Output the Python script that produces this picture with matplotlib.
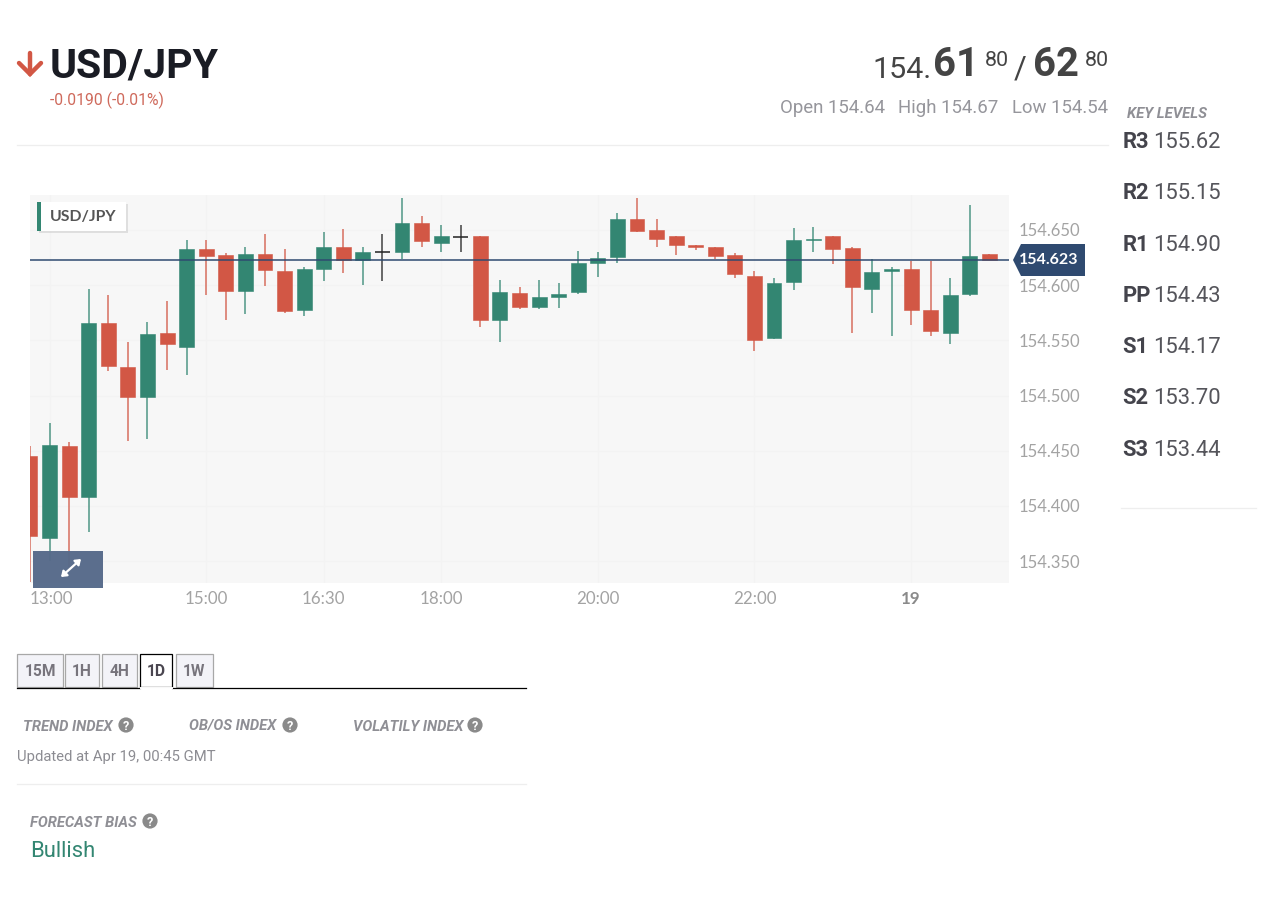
import matplotlib
matplotlib.use('Agg')
import matplotlib.pyplot as plt
from matplotlib.patches import Rectangle, Polygon, Circle
from matplotlib.transforms import ScaledTranslation

# ----------------------------------------------------------------
# Candles, 15 minutes each
# ----------------------------------------------------------------
opens = [154.4455, 154.3707, 154.4543, 154.4084, 154.5655, 154.5261, 154.4984, 154.5564, 154.5443, 154.6331,
         154.6271, 154.5945, 154.6283, 154.6131, 154.5775, 154.6144, 154.6343, 154.6228, 154.6298, 154.6303,
         154.6563, 154.6385, 154.6437, 154.6443, 154.5685, 154.5932, 154.5805, 154.5893, 154.5936, 154.6204,
         154.6255, 154.6600, 154.6500, 154.6443, 154.6361, 154.6343, 154.6271, 154.6083, 154.5524, 154.6026,
         154.6412, 154.6443, 154.6340, 154.5963, 154.6126, 154.6144, 154.5772, 154.5564, 154.5923, 154.6283]
highs = [154.4543, 154.4749, 154.4582, 154.5963, 154.5911, 154.5483, 154.5664, 154.5859, 154.6409, 154.6409,
         154.6289, 154.6349, 154.6461, 154.6325, 154.6167, 154.6485, 154.6509, 154.6349, 154.6461, 154.6787,
         154.6630, 154.6545, 154.6545, 154.6446, 154.6044, 154.5984, 154.6044, 154.6017, 154.6310, 154.6298,
         154.6651, 154.6787, 154.6602, 154.6446, 154.6364, 154.6343, 154.6289, 154.6129, 154.6068, 154.6521,
         154.6530, 154.6446, 154.6343, 154.6237, 154.6167, 154.6219, 154.6222, 154.6068, 154.6727, 154.6283]
lows = [154.3314, 154.3501, 154.3447, 154.3767, 154.5223, 154.4588, 154.4609, 154.5232, 154.5186, 154.5908,
        154.5685, 154.5736, 154.5993, 154.5745, 154.5721, 154.6041, 154.6113, 154.6002, 154.6041, 154.6235,
        154.6349, 154.6298, 154.6298, 154.5624, 154.5483, 154.5782, 154.5782, 154.5796, 154.5917, 154.6077,
        154.6198, 154.6479, 154.6349, 154.6273, 154.6319, 154.6235, 154.6065, 154.5404, 154.5512, 154.5956,
        154.6298, 154.6189, 154.5564, 154.5745, 154.5540, 154.5637, 154.5540, 154.5467, 154.5905, 154.6228]
closes = [154.3728, 154.4552, 154.4084, 154.5655, 154.5268, 154.4984, 154.5555, 154.5464, 154.6331, 154.6264,
          154.5947, 154.6283, 154.6135, 154.5763, 154.6144, 154.6343, 154.6228, 154.6303, 154.6298, 154.6563,
          154.6403, 154.6446, 154.6437, 154.5685, 154.5941, 154.5805, 154.5890, 154.5920, 154.6201, 154.6249,
          154.6600, 154.6494, 154.6416, 154.6367, 154.6346, 154.6264, 154.6104, 154.5503, 154.6023, 154.6412,
          154.6421, 154.6331, 154.5984, 154.6122, 154.6144, 154.5775, 154.5582, 154.5911, 154.6262, 154.6228]

last_price = 154.623
y_ticks = [154.35, 154.40, 154.45, 154.50, 154.55, 154.60, 154.65]
x_ticks = [1, 9, 15, 21, 29, 37, 45]
x_labels = ['13:00', '15:00', '16:30', '18:00', '20:00', '22:00', '19']

level_names = ['R3', 'R2', 'R1', 'PP', 'S1', 'S2', 'S3']
level_values = ['155.62', '155.15', '154.90', '154.43', '154.17', '153.70', '153.44']
tab_names = ['15M', '1H', '4H', '1D', '1W']

GREEN = '#338672'
RED = '#d25745'
NAVY = '#2f4a70'
W, H = 1267, 901

fig = plt.figure(figsize=(W / 100, H / 100), dpi=100, facecolor='white')

# ----------------------------------------------------------------
# Candle chart
# ----------------------------------------------------------------
ax = fig.add_axes([30 / W, 1 - 583 / H, 979 / W, 388 / H], facecolor='#f7f7f7')
ax.set_xlim(0, 50)
ax.set_ylim(154.3302, 154.6817)
for side in ax.spines.values():
    side.set_visible(False)

for i in range(len(opens)):
    if closes[i] > opens[i]:
        col = GREEN
    elif closes[i] < opens[i]:
        col = RED
    else:
        col = '#222222'
    ax.vlines(i, lows[i], highs[i], color=col, lw=1.1, alpha=0.85, zorder=3)
    if col == '#222222':
        ax.hlines(opens[i], i - 0.38, i + 0.38, color=col, lw=1.1, zorder=3)
    else:
        ax.bar(i, abs(closes[i] - opens[i]), bottom=min(opens[i], closes[i]), width=0.76,
               color=col, edgecolor=col, lw=0.4, zorder=3)

ax.axhline(last_price, color=NAVY, lw=1.1, zorder=4)

ax.set_yticks(y_ticks)
ax.set_yticklabels(['%.3f' % v for v in y_ticks], family='Lato', fontsize=12.0, color='#a3a3a3')
ax.yaxis.tick_right()
ax.tick_params(axis='y', length=0, pad=7)
ax.set_xticks(x_ticks)
ax.set_xticklabels(x_labels, family='Lato', fontsize=12.2, color='#a3a3a3')
ax.tick_params(axis='x', length=0, pad=6)
ax.get_xticklabels()[-1].set_fontweight('bold')
ax.get_xticklabels()[-1].set_color('#8a8a8a')
first = ax.get_xticklabels()[0]
first.set_transform(first.get_transform() + ScaledTranslation(2 / 100, 0, fig.dpi_scale_trans))
ax.grid(True, color='#f3f3f3', lw=0.8, zorder=0)
ax.set_axisbelow(True)

# ----------------------------------------------------------------
# Page furniture, placed in pixels on a full figure overlay
# ----------------------------------------------------------------
pg = fig.add_axes([0, 0, 1, 1], facecolor='none')
pg.set_xlim(0, W)
pg.set_ylim(H, 0)
pg.axis('off')


def txt(x, y, s, size, col='#444444', weight='normal', style='normal', ha='left', va='baseline', fam='Roboto'):
    return pg.text(x, y, s, fontsize=size * 0.72, color=col, fontweight=weight, fontstyle=style,
                   ha=ha, va=va, family=fam)


def help_icon(x, y):
    pg.add_patch(Circle((x, y), 7.6, color='#8a8a8a', lw=0, zorder=5))
    txt(x, y + 4.6, '?', 12.5, col='white', weight='bold', ha='center').set_zorder(6)


# header
pg.plot([30, 30], [53, 74], color=RED, lw=3.2, solid_capstyle='round')
pg.plot([19, 30, 41], [63, 74, 63], color=RED, lw=3.2, solid_capstyle='round', solid_joinstyle='miter')
txt(50, 78, 'USD/JPY', 41, col='#1a1c24', weight='bold')
txt(50, 105, '-0.0190 (-0.01%)', 15.8, col='#cf6a5c')

txt(872, 78, '154.', 30.5)
txt(933, 76, '61', 40, weight='bold')
txt(985, 66, '80', 21.5)
txt(1014, 78, '/', 31)
txt(1033, 76, '62', 40, weight='bold')
txt(1085, 66, '80', 21.5)
txt(780, 113, 'Open 154.64', 18.6, col='#96969c')
txt(898, 113, 'High 154.67', 18.6, col='#96969c')
txt(1012, 113, 'Low 154.54', 18.6, col='#96969c')
pg.plot([17, 1108], [144.5, 144.5], color='#eeeeee', lw=0.9)

# key levels column
txt(1127, 118, 'KEY LEVELS', 14.9, col='#8f8f95', weight='bold', style='italic')
for k in range(len(level_names)):
    y_k = 148 + k * 51.3
    txt(1122.5, y_k, level_names[k], 22, col='#44444c', weight='bold')
    txt(1153.5, y_k, level_values[k], 22, col='#55555b')
pg.plot([1121, 1256], [507.5, 507.5], color='#eeeeee', lw=0.9)

# chart overlays
pg.add_patch(Rectangle((39, 204), 89, 29, facecolor='#cfcfcf', lw=0, alpha=0.6, zorder=2))
pg.add_patch(Rectangle((37, 202), 89, 29, facecolor='white', lw=0, zorder=3))
pg.add_patch(Rectangle((37, 202), 4, 29, facecolor=GREEN, lw=0, zorder=4))
txt(50, 221, 'USD/JPY', 15.7, col='#555555', weight='bold', fam='Lato').set_zorder(4)

pg.add_patch(Rectangle((33, 551), 70, 37, facecolor='#566a8a', lw=0, alpha=0.97, zorder=3))
pg.annotate('', xy=(81, 559), xytext=(61, 577), zorder=4,
            arrowprops=dict(arrowstyle='<|-|>,head_width=0.22,head_length=0.3', color='white', lw=1.6,
                            shrinkA=0, shrinkB=0))

pg.add_patch(Polygon([(1013, 260), (1021, 244), (1085, 244), (1085, 276), (1021, 276)],
                     closed=True, facecolor=NAVY, lw=0, zorder=3))
txt(1049, 260, '%.3f' % last_price, 16, col='white', weight='bold', ha='center', va='center', fam='Lato').set_zorder(4)

# timeframe tabs
tab_left = [17, 65, 102, 140, 176]
tab_right = [63, 99, 137, 172, 213]
pg.plot([17, 140], [687.5, 687.5], color='black', lw=0.9, zorder=3)
pg.plot([172, 526], [687.5, 687.5], color='black', lw=0.9, zorder=3)
for t in range(len(tab_names)):
    active = tab_names[t] == '1D'
    pg.add_patch(Rectangle((tab_left[t], 654), tab_right[t] - tab_left[t], 33,
                           facecolor='white' if active else '#f3f3f8',
                           edgecolor='black' if active else '#a8a8a8', lw=0.9, zorder=2))
    if active:
        pg.plot([tab_left[t] + 0.5, tab_right[t] - 0.5], [687.5, 687.5], color='white', lw=1.4, zorder=4)
    txt((tab_left[t] + tab_right[t]) / 2, 676, tab_names[t], 15.5, col='#4a4650' if active else '#77747c',
        weight='bold', ha='center').set_zorder(5)

# indices
txt(23, 731, 'TREND INDEX', 14.8, col='#8f8f95', weight='bold', style='italic')
help_icon(126, 725)
txt(189, 729.5, 'OB/OS INDEX', 14.8, col='#8f8f95', weight='bold', style='italic')
help_icon(290, 725)
txt(353, 731, 'VOLATILY INDEX', 14.7, col='#8f8f95', weight='bold', style='italic')
help_icon(475, 725)
txt(17, 761, 'Updated at Apr 19, 00:45 GMT', 14.85, col='#8c8c92')
pg.plot([17, 526], [783.5, 783.5], color='#eeeeee', lw=0.9)

txt(30, 827, 'FORECAST BIAS', 14.8, col='#8f8f95', weight='bold', style='italic')
help_icon(150, 821)
txt(30, 857, 'Bullish', 22, col=GREEN)

fig.savefig('out.png', dpi=100)
